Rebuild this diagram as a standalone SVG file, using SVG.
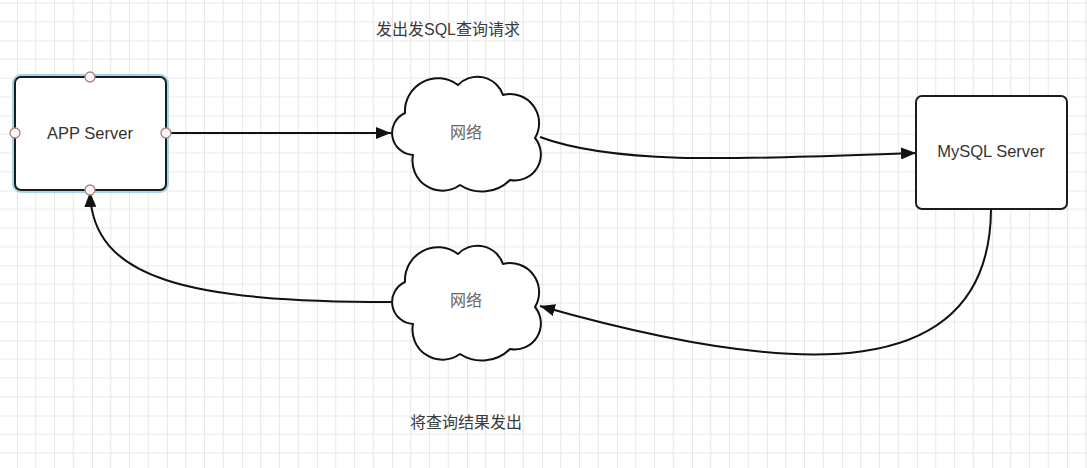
<svg xmlns="http://www.w3.org/2000/svg" width="1087" height="468" viewBox="0 0 1087 468">
  <style>
    .lbl { font-family: "Liberation Sans", "Noto Sans CJK SC", sans-serif; font-size: 16.5px; fill: #333; text-anchor: middle; dominant-baseline: central; }
    .cjk { font-family: "Liberation Sans", "Noto Sans CJK SC", sans-serif; font-size: 16px; fill: #666; text-anchor: middle; dominant-baseline: central; }
    .note { font-family: "Liberation Sans", "Noto Sans CJK SC", sans-serif; font-size: 16px; fill: #3a3a3a; text-anchor: middle; dominant-baseline: central; }
    .edge { fill: none; stroke: #111; stroke-width: 2; }
    .box { fill: #fff; stroke: #1c1c1c; stroke-width: 2; }
    .cloud { fill: #fff; stroke: #111; stroke-width: 2; stroke-linejoin: round; }
    .port { fill: #fdf4f6; stroke: #a8808a; stroke-width: 1.3; }
  </style>
  <defs>
    <pattern id="grid" patternUnits="userSpaceOnUse" x="17" y="40.5" width="75" height="75">
      <rect x="0" y="0" width="75" height="75" fill="#fff"/>
      <rect x="18.25" y="0" width="1" height="75" fill="#e8e8e8"/>
      <rect x="37" y="0" width="1" height="75" fill="#e8e8e8"/>
      <rect x="55.75" y="0" width="1" height="75" fill="#e8e8e8"/>
      <rect x="0" y="18.25" width="75" height="1" fill="#e8e8e8"/>
      <rect x="0" y="37" width="75" height="1" fill="#e8e8e8"/>
      <rect x="0" y="55.75" width="75" height="1" fill="#e8e8e8"/>
      <rect x="-0.5" y="0" width="1" height="75" fill="#d4d4d4"/>
      <rect x="0" y="-0.5" width="75" height="1" fill="#d4d4d4"/>
    </pattern>
    <marker id="arrow" markerUnits="userSpaceOnUse" markerWidth="16" markerHeight="12" refX="15" refY="6" orient="auto">
      <path d="M0,0 L15,6 L0,12 Z" fill="#111"/>
    </marker>
    <path id="cloudShape" d="M-60,-20 A33,33 0 0 1 -7,-48 A27,27 0 0 1 38,-38 A29,29 0 0 1 70,5 A26,26 0 0 1 45,47 A40,40 0 0 1 -5,52 A30,30 0 0 1 -52,22 A22,22 0 0 1 -60,-20 Z"/>
  </defs>

  <rect id="background" x="0" y="0" width="1087" height="468" fill="url(#grid)"/>

  <g id="connectors">
    <path class="edge" d="M166,133 L391,133" marker-end="url(#arrow)"/>
    <path class="edge" d="M540,137 C620,167 760,158 916,153" marker-end="url(#arrow)"/>
    <path class="edge" d="M991,209 C990,385 800,380 540,306" marker-end="url(#arrow)"/>
    <path class="edge" d="M391,302 C190,302 92,280 90,192" marker-end="url(#arrow)"/>
  </g>

  <g id="app-server">
    <rect x="15" y="77" width="151" height="113" rx="6" fill="none" stroke="#a3d6ea" stroke-width="6"/>
    <rect class="box" x="15" y="77" width="151" height="113" rx="6" stroke="#17222c" stroke-width="2.6"/>
    <text class="lbl" x="90" y="133">APP Server</text>
    <circle class="port" cx="90" cy="77" r="5"/>
    <circle class="port" cx="15" cy="133" r="5"/>
    <circle class="port" cx="166" cy="133" r="5"/>
    <circle class="port" cx="90" cy="190" r="5"/>
  </g>

  <g id="cloud-request">
    <use href="#cloudShape" class="cloud" transform="translate(465,133)"/>
    <text class="cjk" x="466" y="132">网络</text>
  </g>

  <g id="cloud-response">
    <use href="#cloudShape" class="cloud" transform="translate(465,302)"/>
    <text class="cjk" x="466" y="300">网络</text>
  </g>

  <g id="mysql-server">
    <rect class="box" x="916" y="96" width="151" height="113" rx="6"/>
    <text class="lbl" x="991" y="151">MySQL Server</text>
  </g>

  <g id="labels">
    <text class="note" x="448" y="29">发出发SQL查询请求</text>
    <text class="note" x="466" y="422">将查询结果发出</text>
  </g>
</svg>
